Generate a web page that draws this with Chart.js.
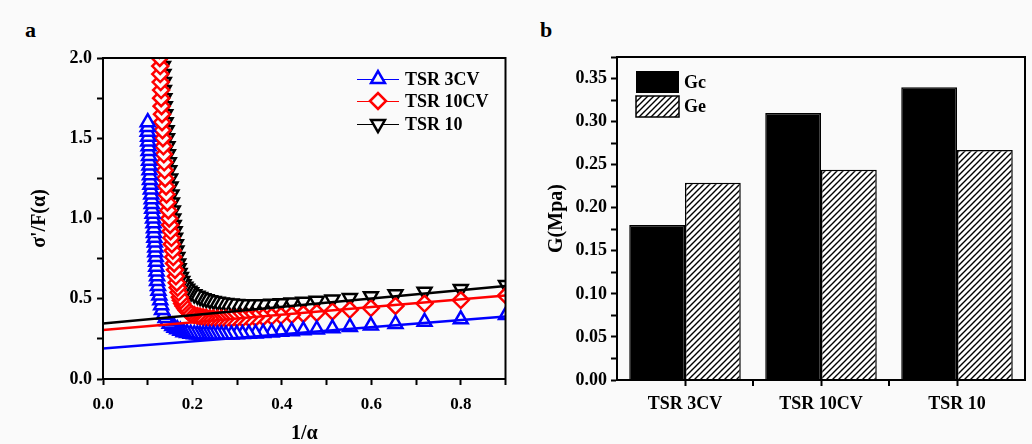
<!DOCTYPE html>
<html>
<head>
<meta charset="utf-8">
<script src="https://cdn.jsdelivr.net/npm/chart.js@4/dist/chart.umd.min.js"></script>
<style>
  body { margin: 0; background: #fafafa; width: 1032px; height: 444px; overflow: hidden; position: relative; }
  .panel { position: absolute; top: 0; width: 516px; height: 444px; }
  .tag { position: absolute; font: bold 22px "Liberation Serif", serif; line-height: 1; color: #000; }
</style>
</head>
<body>

<div class="tag" style="left:25px; top:19px;">a</div>
<div class="tag" style="left:540px; top:19px;">b</div>

<div class="panel" style="left:0"><canvas id="plotA" width="516" height="444"></canvas></div>
<div class="panel" style="left:516px"><canvas id="plotB" width="516" height="444"></canvas></div>

<script>

/* =========================
   DATA - panel a
   (points run from 1/α = 0.9 towards the upturn)
========================= */

const x3cv = [0.901, 0.800, 0.719, 0.654, 0.599, 0.552, 0.513, 0.478, 0.448, 0.422,
    0.398, 0.377, 0.358, 0.341, 0.326, 0.312, 0.299, 0.287, 0.275, 0.265,
    0.256, 0.247, 0.239, 0.231, 0.224, 0.217, 0.211, 0.204,
    0.196, 0.188, 0.180, 0.173, 0.166, 0.160, 0.155, 0.149, 0.144, 0.140,
    0.136, 0.132, 0.130, 0.128, 0.126, 0.124, 0.123, 0.121, 0.121, 0.120,
    0.119, 0.119, 0.118, 0.117, 0.117, 0.116, 0.115, 0.114, 0.114, 0.113,
    0.112, 0.111, 0.110, 0.109, 0.109, 0.108, 0.107, 0.106, 0.105, 0.105,
    0.104, 0.104, 0.103, 0.103, 0.102, 0.102, 0.101, 0.101, 0.100, 0.100, 0.100];
const y3cv = [0.398, 0.372, 0.356, 0.343, 0.333, 0.324, 0.316, 0.309, 0.303, 0.298,
    0.294, 0.290, 0.287, 0.284, 0.282, 0.280, 0.279, 0.278, 0.277, 0.277,
    0.277, 0.277, 0.277, 0.277, 0.277, 0.277, 0.278, 0.279,
    0.282, 0.286, 0.292, 0.300, 0.310, 0.320, 0.330, 0.345, 0.360, 0.380,
    0.400, 0.430, 0.460, 0.490, 0.520, 0.550, 0.580, 0.610, 0.640, 0.670,
    0.700, 0.730, 0.760, 0.790, 0.820, 0.850, 0.880, 0.910, 0.940, 0.970,
    1.000, 1.030, 1.060, 1.090, 1.120, 1.150, 1.180, 1.210, 1.240, 1.270,
    1.300, 1.330, 1.360, 1.390, 1.420, 1.450, 1.480, 1.510, 1.540, 1.570, 1.600];

const x10cv = [0.901, 0.800, 0.719, 0.654, 0.599, 0.552, 0.513, 0.478, 0.448, 0.422,
    0.398, 0.377, 0.358, 0.341, 0.326, 0.312, 0.299, 0.287, 0.275, 0.265,
    0.256, 0.247, 0.239, 0.231, 0.224, 0.217, 0.211, 0.204,
    0.199, 0.195, 0.191, 0.187, 0.184, 0.180, 0.177, 0.174, 0.172, 0.169,
    0.167, 0.165, 0.163, 0.161, 0.159, 0.157, 0.156, 0.154, 0.153, 0.151,
    0.150, 0.148, 0.146, 0.144, 0.142, 0.141, 0.139, 0.138, 0.137, 0.136,
    0.135, 0.134, 0.133, 0.132, 0.132, 0.131, 0.130, 0.130, 0.129, 0.128,
    0.128, 0.127, 0.126];
const y10cv = [0.520, 0.492, 0.470, 0.455, 0.442, 0.431, 0.421, 0.412, 0.405, 0.399,
    0.394, 0.389, 0.385, 0.382, 0.380, 0.378, 0.377, 0.376, 0.375, 0.375,
    0.376, 0.377, 0.379, 0.382, 0.385, 0.389, 0.393, 0.399,
    0.404, 0.410, 0.418, 0.428, 0.440, 0.455, 0.470, 0.490, 0.510, 0.540,
    0.570, 0.600, 0.640, 0.680, 0.720, 0.760, 0.800, 0.840, 0.880, 0.920,
    0.960, 1.000, 1.050, 1.100, 1.150, 1.200, 1.250, 1.300, 1.350, 1.400,
    1.450, 1.500, 1.550, 1.600, 1.650, 1.700, 1.750, 1.800, 1.850, 1.900,
    1.950, 2.000, 2.050];

const x10 = [0.901, 0.800, 0.719, 0.654, 0.599, 0.552, 0.513, 0.478, 0.448, 0.422,
    0.398, 0.377, 0.358, 0.341, 0.326, 0.312, 0.299, 0.287, 0.275, 0.265,
    0.256, 0.247, 0.239, 0.231, 0.224, 0.217, 0.211, 0.204,
    0.197, 0.193, 0.188, 0.184, 0.180, 0.177, 0.174, 0.171, 0.169, 0.168,
    0.166, 0.164, 0.163, 0.161, 0.160, 0.158, 0.157, 0.156, 0.154, 0.153,
    0.151, 0.150, 0.148, 0.147, 0.145, 0.144, 0.143, 0.142, 0.140, 0.139,
    0.138, 0.137, 0.136, 0.136, 0.135, 0.134, 0.133, 0.132];
const y10 = [0.585, 0.560, 0.543, 0.528, 0.515, 0.504, 0.495, 0.487, 0.481, 0.476,
    0.472, 0.469, 0.466, 0.465, 0.465, 0.466, 0.468, 0.470, 0.473, 0.477,
    0.481, 0.486, 0.491, 0.497, 0.503, 0.511, 0.519, 0.528,
    0.540, 0.550, 0.562, 0.575, 0.590, 0.610, 0.635, 0.660, 0.690, 0.720,
    0.760, 0.800, 0.840, 0.880, 0.920, 0.960, 1.000, 1.050, 1.100, 1.150,
    1.200, 1.250, 1.300, 1.350, 1.400, 1.450, 1.500, 1.550, 1.600, 1.650,
    1.700, 1.750, 1.800, 1.850, 1.900, 1.950, 2.000, 2.050];

// linear fits (end points)
const fitX = [0, 0.9];
const fit3cv = [0.19, 0.39];
const fit10cv = [0.305, 0.52];
const fit10 = [0.345, 0.58];

/* =========================
   DATA - panel b
========================= */

const samples = ["TSR 3CV", "TSR 10CV", "TSR 10"];
const gc = [0.180, 0.310, 0.340];
const ge = [0.229, 0.244, 0.267];


const FONT = '"Liberation Serif", "Times New Roman", serif';
const BG = "#fafafa";

const pts = (xs, ys) => xs.map((x, i) => ({ x, y: ys[i] }));

/* =========================
   HELPERS
========================= */

const frame = {
    id: "frame",
    afterDraw(chart) {
        const { ctx, chartArea: a } = chart;
        ctx.save();
        ctx.strokeStyle = "#000";
        ctx.lineWidth = 2;
        ctx.strokeRect(a.left, a.top, a.right - a.left, a.bottom - a.top);
        ctx.restore();
    }
};

function marker(ctx, style, rotation, radius, color, x, y) {
    ctx.save();
    ctx.strokeStyle = color;
    ctx.fillStyle = BG;
    ctx.lineWidth = 2.5;
    Chart.helpers.drawPoint(ctx, { pointStyle: style, rotation, radius, borderWidth: 2.5 }, x, y);
    ctx.restore();
}

const series = [
    { label: "TSR 3CV", color: "#0000ff", style: "triangle", rot: 0, r: 8 },
    { label: "TSR 10CV", color: "#ff0000", style: "rectRot", rot: 0, r: 8 },
    { label: "TSR 10", color: "#000000", style: "triangle", rot: 180, r: 8 }
];

const legendA = {
    id: "legendA",
    afterDraw(chart) {
        const ctx = chart.ctx;
        const rows = [79, 101, 124];
        series.forEach((s, i) => {
            const y = rows[i];
            ctx.save();
            ctx.strokeStyle = s.color;
            ctx.lineWidth = 1;
            ctx.beginPath();
            ctx.moveTo(357, y + 0.5);
            ctx.lineTo(399, y + 0.5);
            ctx.stroke();
            ctx.restore();
            marker(ctx, s.style, s.rot, s.r, s.color, 378, y);
            ctx.save();
            ctx.fillStyle = "#000";
            ctx.font = "bold 18px " + FONT;
            ctx.textBaseline = "middle";
            ctx.fillText(s.label, 405, y + 1);
            ctx.restore();
        });
    }
};

function hatch() {
    const c = document.createElement("canvas");
    c.width = 6;
    c.height = 6;
    const g = c.getContext("2d");
    g.fillStyle = "#ffffff";
    g.fillRect(0, 0, 6, 6);
    g.strokeStyle = "#000";
    g.lineWidth = 1.4;
    g.beginPath();
    g.moveTo(-1, 7); g.lineTo(7, -1);
    g.moveTo(-1, 1); g.lineTo(1, -1);
    g.moveTo(5, 7); g.lineTo(7, 5);
    g.stroke();
    return g.createPattern(c, "repeat");
}

const hatchFill = hatch();

const legendB = {
    id: "legendB",
    afterDraw(chart) {
        const ctx = chart.ctx;
        ctx.save();
        ctx.fillStyle = "#000";
        ctx.fillRect(120, 71, 43, 22);
        ctx.fillStyle = hatchFill;
        ctx.fillRect(120, 96, 43, 21);
        ctx.strokeStyle = "#000";
        ctx.lineWidth = 1.5;
        ctx.strokeRect(120, 96, 43, 21);
        ctx.fillStyle = "#000";
        ctx.font = "bold 18px " + FONT;
        ctx.textBaseline = "middle";
        ctx.fillText("Gc", 168, 83);
        ctx.fillText("Ge", 168, 107);

        // extra ticks on the category borders
        const xs = chart.scales.x;
        const b = chart.chartArea.bottom;
        ctx.lineWidth = 2;
        [0.5, 1.5].forEach(v => {
            const px = Math.round(xs.getPixelForValue(v));
            ctx.beginPath();
            ctx.moveTo(px, b);
            ctx.lineTo(px, b + 6);
            ctx.stroke();
        });
        ctx.restore();
    }
};

const xTickFont = { family: FONT, size: 17, weight: "bold" };
const yTickFont = { family: FONT, size: 18, weight: "bold" };
const titleFont = { family: FONT, size: 20, weight: "bold", lineHeight: 1.2 };

const axisGrid = {
    drawOnChartArea: false,
    drawTicks: true,
    tickLength: 6,
    tickWidth: 2,
    tickColor: "#000"
};

/* =========================
   PANEL A
========================= */

function markerSet(s, xs, ys, order) {
    return {
        type: "scatter",
        label: s.label,
        data: pts(xs, ys),
        showLine: false,
        pointStyle: s.style,
        rotation: s.rot,
        pointRadius: s.r,
        pointBorderWidth: 2.5,
        pointBorderColor: s.color,
        pointBackgroundColor: BG,
        borderColor: s.color,
        backgroundColor: BG,
        order
    };
}

function fitSet(color, ys) {
    return {
        type: "line",
        data: pts(fitX, ys),
        borderColor: color,
        borderWidth: 2.5,
        pointRadius: 0,
        fill: false,
        order: 0
    };
}

new Chart(document.getElementById("plotA"), {
    type: "scatter",
    data: {
        datasets: [
            markerSet(series[0], x3cv, y3cv, 1),
            markerSet(series[1], x10cv, y10cv, 2),
            markerSet(series[2], x10, y10, 3),
            fitSet("#0000ff", fit3cv),
            fitSet("#ff0000", fit10cv),
            fitSet("#000000", fit10)
        ]
    },
    options: {
        responsive: false,
        animation: false,
        layout: { padding: { top: 58, right: 8, left: 0, bottom: 0 } },
        plugins: { legend: { display: false }, tooltip: { enabled: false } },
        scales: {
            x: {
                type: "linear",
                min: 0,
                max: 0.9,
                border: { color: "#000", width: 2 },
                grid: axisGrid,
                ticks: {
                    stepSize: 0.1,
                    color: "#000",
                    font: xTickFont,
                    padding: 9,
                    maxRotation: 0,
                    autoSkip: false,
                    callback: v => Math.abs(v * 5 - Math.round(v * 5)) < 1e-6 ? v.toFixed(1) : ""
                },
                title: {
                    display: true,
                    text: "1/α",
                    color: "#000",
                    font: { family: FONT, size: 20, weight: "bold", lineHeight: 1 },
                    padding: { top: 0, bottom: 0 }
                },
                afterFit: s => { s.height = 65; }
            },
            y: {
                min: 0,
                max: 2,
                border: { color: "#000", width: 2 },
                grid: axisGrid,
                ticks: {
                    stepSize: 0.25,
                    color: "#000",
                    font: yTickFont,
                    padding: 5,
                    autoSkip: false,
                    callback: v => Math.abs(v * 2 - Math.round(v * 2)) < 1e-6 ? v.toFixed(1) : ""
                },
                title: {
                    display: true,
                    text: "σ'/F(α)",
                    color: "#000",
                    font: titleFont,
                    padding: { top: 28, bottom: 0 }
                },
                afterFit: s => { s.width = 103; }
            }
        }
    },
    plugins: [frame, legendA]
});

/* =========================
   PANEL B
========================= */

new Chart(document.getElementById("plotB"), {
    type: "bar",
    data: {
        labels: samples,
        datasets: [
            {
                label: "Gc",
                data: gc,
                backgroundColor: "#000",
                borderColor: "#000",
                borderWidth: 1.5,
                categoryPercentage: 0.82,
                barPercentage: 1
            },
            {
                label: "Ge",
                data: ge,
                backgroundColor: hatchFill,
                borderColor: "#000",
                borderWidth: 1.5,
                categoryPercentage: 0.82,
                barPercentage: 1
            }
        ]
    },
    options: {
        responsive: false,
        animation: false,
        layout: { padding: { top: 57, right: 7, left: 0, bottom: 0 } },
        plugins: { legend: { display: false }, tooltip: { enabled: false } },
        scales: {
            x: {
                border: { color: "#000", width: 2 },
                grid: Object.assign({}, axisGrid, { offset: false }),
                ticks: {
                    color: "#000",
                    font: { family: FONT, size: 18, weight: "bold" },
                    padding: 8,
                    maxRotation: 0
                },
                afterFit: s => { s.height = 64; }
            },
            y: {
                min: 0,
                max: 0.375,
                border: { color: "#000", width: 2 },
                grid: axisGrid,
                ticks: {
                    stepSize: 0.025,
                    color: "#000",
                    font: yTickFont,
                    padding: 4,
                    autoSkip: false,
                    callback: v => Math.abs(v * 20 - Math.round(v * 20)) < 1e-6 ? v.toFixed(2) : ""
                },
                title: {
                    display: true,
                    text: "G(Mpa)",
                    color: "#000",
                    font: titleFont,
                    padding: { top: 29, bottom: 0 }
                },
                afterFit: s => { s.width = 101; }
            }
        }
    },
    plugins: [frame, legendB]
});

</script>
</body>
</html>
